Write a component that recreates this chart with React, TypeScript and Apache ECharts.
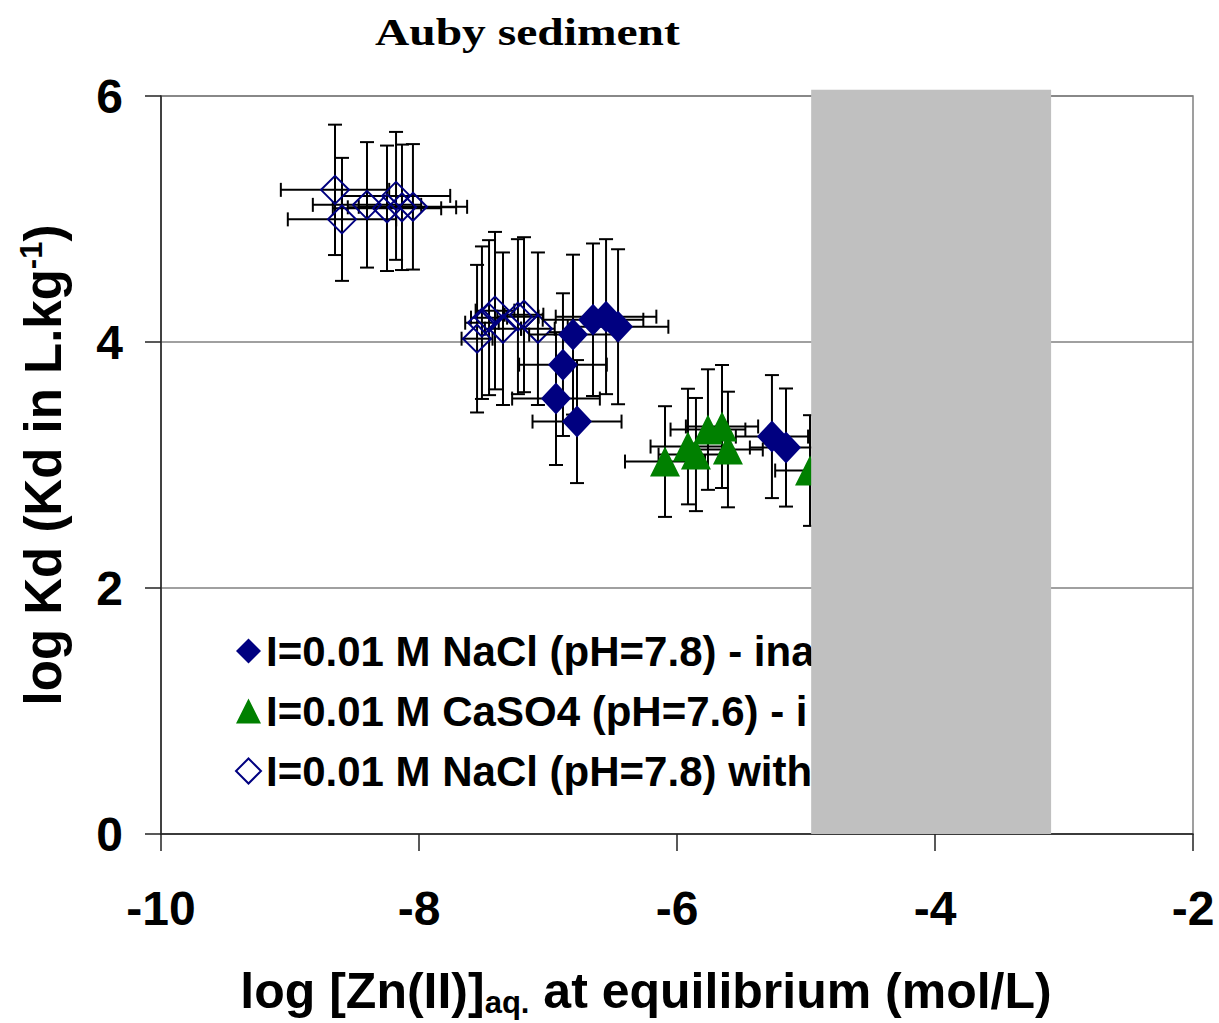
import React, { useEffect, useRef } from "react";
import * as echarts from "echarts";

const titleText = "Auby sediment";
const xAxisMin = -10;
const xAxisMax = -2;
const xAxisStep = 2;
const yAxisMin = 0;
const yAxisMax = 6;
const yAxisStep = 2;

const nameNaClInact = "I=0.01 M NaCl (pH=7.8) - ina";
const nameCaSO4Inact = "I=0.01 M CaSO4 (pH=7.6) - i";
const nameNaClWith = "I=0.01 M NaCl (pH=7.8) with";

// Filled navy diamonds: NaCl inactivated
const naclX = [-6.938, -6.884, -6.806, -6.775, -6.651, -6.55, -6.457, -5.264, -5.155];
const naclY = [3.54, 3.816, 4.06, 3.353, 4.181, 4.206, 4.124, 3.231, 3.142];
const naclXErr = [0.34, 0.34, 0.34, 0.345, 0.39, 0.39, 0.39, 0.28, 0.28];
const naclYErr = [0.54, 0.58, 0.65, 0.5, 0.62, 0.63, 0.63, 0.5, 0.48];

// Green triangles: CaSO4 inactivated
const caX = [-6.093, -5.915, -5.853, -5.76, -5.651, -5.605, -4.969];
const caY = [3.028, 3.15, 3.085, 3.288, 3.313, 3.126, 2.955];
const caXErr = [0.31, 0.29, 0.29, 0.29, 0.28, 0.27, 0.27];
const caYErr = [0.45, 0.47, 0.46, 0.49, 0.5, 0.47, 0.45];

// Hollow navy diamonds: NaCl with ...
const withX = [-8.651, -8.597, -8.403, -8.248, -8.178, -8.132, -8.047, -7.55, -7.512, -7.457, -7.411, -7.349, -7.233, -7.186, -7.078];
const withY = [5.237, 4.997, 5.115, 5.087, 5.188, 5.095, 5.099, 4.027, 4.157, 4.198, 4.255, 4.108, 4.206, 4.222, 4.108];
const withXErr = [0.42, 0.42, 0.42, 0.42, 0.42, 0.42, 0.42, 0.12, 0.13, 0.14, 0.15, 0.14, 0.16, 0.15, 0.13];
const withYErr = [0.53, 0.5, 0.51, 0.51, 0.52, 0.51, 0.51, 0.6, 0.62, 0.63, 0.64, 0.62, 0.63, 0.63, 0.62];

// Grey band (log [Zn] range), from x start to x end, y bottom to top
const bandX = [-4.96, -3.1];
const bandY = [0, 6.05];

const zip4 = (a: number[], b: number[], c: number[], d: number[]) => a.map((v, i) => [v, b[i], c[i], d[i]]);

function errorBarRender(params: any, api: any) {
  const x = api.value(0);
  const y = api.value(1);
  const xe = api.value(2);
  const ye = api.value(3);
  const c = api.coord([x, y]);
  const l = api.coord([x - xe, y]);
  const r = api.coord([x + xe, y]);
  const t = api.coord([x, y + ye]);
  const b = api.coord([x, y - ye]);
  const cap = 7;
  const style = { stroke: "#000", lineWidth: 2 };
  const ln = (x1: number, y1: number, x2: number, y2: number) => ({
    type: "line",
    shape: { x1, y1, x2, y2 },
    style,
  });
  return {
    type: "group",
    children: [
      ln(l[0], c[1], r[0], c[1]),
      ln(l[0], c[1] - cap, l[0], c[1] + cap),
      ln(r[0], c[1] - cap, r[0], c[1] + cap),
      ln(c[0], t[1], c[0], b[1]),
      ln(c[0] - cap, t[1], c[0] + cap, t[1]),
      ln(c[0] - cap, b[1], c[0] + cap, b[1]),
    ],
  };
}

function bandRender(params: any, api: any) {
  const p0 = api.coord([api.value(0), api.value(3)]);
  const p1 = api.coord([api.value(1), api.value(2)]);
  return {
    type: "rect",
    shape: { x: p0[0], y: p0[1], width: p1[0] - p0[0], height: p1[1] - p0[1] },
    style: { fill: "#C0C0C0" },
  };
}

export default function App() {
  const ref = useRef<HTMLDivElement>(null);
  useEffect(() => {
    if (!ref.current) return;
    document.body.style.margin = "0";
    const chart = echarts.init(ref.current, undefined, { renderer: "svg" });
    const font = "Arial, 'Liberation Sans', sans-serif";
    const navy = "#000080";
    const green = "#008000";
    chart.setOption({
      animation: false,
      backgroundColor: "#fff",
      graphic: [
        {
          type: "text",
          x: 375,
          y: 13,
          scaleX: 1.25,
          style: {
            text: titleText,
            fontFamily: "'Liberation Serif', 'Times New Roman', serif",
            fontWeight: "bold",
            fontSize: 38,
            fill: "#000",
          },
        },
      ],
      grid: {
        left: 161,
        right: 26,
        top: 96,
        bottom: 188,
        show: true,
        borderColor: "#808080",
        borderWidth: 1.5,
        backgroundColor: "transparent",
      },
      legend: {
        orient: "vertical",
        left: 230,
        top: 625,
        z: 3,
        itemWidth: 25,
        itemHeight: 25,
        itemGap: 18,
        selectedMode: false,
        data: [nameNaClInact, nameCaSO4Inact, nameNaClWith],
        textStyle: { fontFamily: font, fontWeight: "bold", fontSize: 42, color: "#000" },
      },
      xAxis: {
        type: "value",
        min: xAxisMin,
        max: xAxisMax,
        interval: xAxisStep,
        name: "log [Zn(II)]{sub|aq.} at equilibrium (mol/L)",
        nameLocation: "middle",
        nameGap: 129,
        nameTextStyle: {
          fontFamily: font,
          fontWeight: "bold",
          fontSize: 50,
          color: "#000",
          padding: [0, 62, 0, 0],
          rich: {
            sub: { fontFamily: font, fontWeight: "bold", fontSize: 31, color: "#000", padding: [24, 0, 0, 0] },
          },
        },
        axisLine: { lineStyle: { color: "#222", width: 1.5 } },
        axisTick: { length: 17, lineStyle: { color: "#222", width: 1.5 } },
        axisLabel: { margin: 50, fontFamily: font, fontWeight: "bold", fontSize: 48, color: "#000" },
        splitLine: { show: false },
      },
      yAxis: {
        type: "value",
        min: yAxisMin,
        max: yAxisMax,
        interval: yAxisStep,
        name: "log Kd (Kd in L.kg{sup|-1})",
        nameLocation: "middle",
        nameGap: 90,
        nameTextStyle: {
          fontFamily: font,
          fontWeight: "bold",
          fontSize: 51,
          color: "#000",
          rich: {
            sup: { fontFamily: font, fontWeight: "bold", fontSize: 31, color: "#000", padding: [0, 0, 24, 0] },
          },
        },
        axisLine: { show: true, lineStyle: { color: "#222", width: 1.5 } },
        axisTick: { show: true, length: 16, lineStyle: { color: "#222", width: 1.5 } },
        axisLabel: { margin: 38, fontFamily: font, fontWeight: "bold", fontSize: 48, color: "#000" },
        splitLine: { show: true, lineStyle: { color: "#808080", width: 1.5 } },
      },
      series: [
        {
          type: "custom",
          name: "errWith",
          renderItem: errorBarRender,
          data: zip4(withX, withY, withXErr, withYErr),
          encode: { x: 0, y: 1 },
          clip: false,
          z: 2,
          silent: true,
        },
        {
          type: "scatter",
          name: nameNaClWith,
          data: withX.map((v, i) => [v, withY[i]]),
          symbol: "diamond",
          symbolSize: [28, 28],
          itemStyle: { color: "rgba(255,255,255,0)", borderColor: navy, borderWidth: 2, opacity: 1 },
          z: 3,
        },
        {
          type: "custom",
          name: "errNaCl",
          renderItem: errorBarRender,
          data: zip4(naclX, naclY, naclXErr, naclYErr),
          encode: { x: 0, y: 1 },
          clip: false,
          z: 4,
          silent: true,
        },
        {
          type: "scatter",
          name: nameNaClInact,
          data: naclX.map((v, i) => [v, naclY[i]]),
          symbol: "diamond",
          symbolSize: [30, 32],
          itemStyle: { color: navy, opacity: 1 },
          z: 5,
        },
        {
          type: "custom",
          name: "errCa",
          renderItem: errorBarRender,
          data: zip4(caX, caY, caXErr, caYErr),
          encode: { x: 0, y: 1 },
          clip: false,
          z: 6,
          silent: true,
        },
        {
          type: "scatter",
          name: nameCaSO4Inact,
          data: caX.map((v, i) => [v, caY[i]]),
          symbol: "triangle",
          symbolSize: [30, 30],
          itemStyle: { color: green, opacity: 1 },
          z: 7,
        },
        {
          type: "custom",
          name: "band",
          renderItem: bandRender,
          data: [[bandX[0], bandX[1], bandY[0], bandY[1]]],
          encode: { x: [0, 1], y: [2, 3] },
          clip: false,
          z: 10,
          silent: true,
        },
      ],
    });
    return () => chart.dispose();
  }, []);
  return <div ref={ref} style={{ width: 1219, height: 1023 }} />;
}
